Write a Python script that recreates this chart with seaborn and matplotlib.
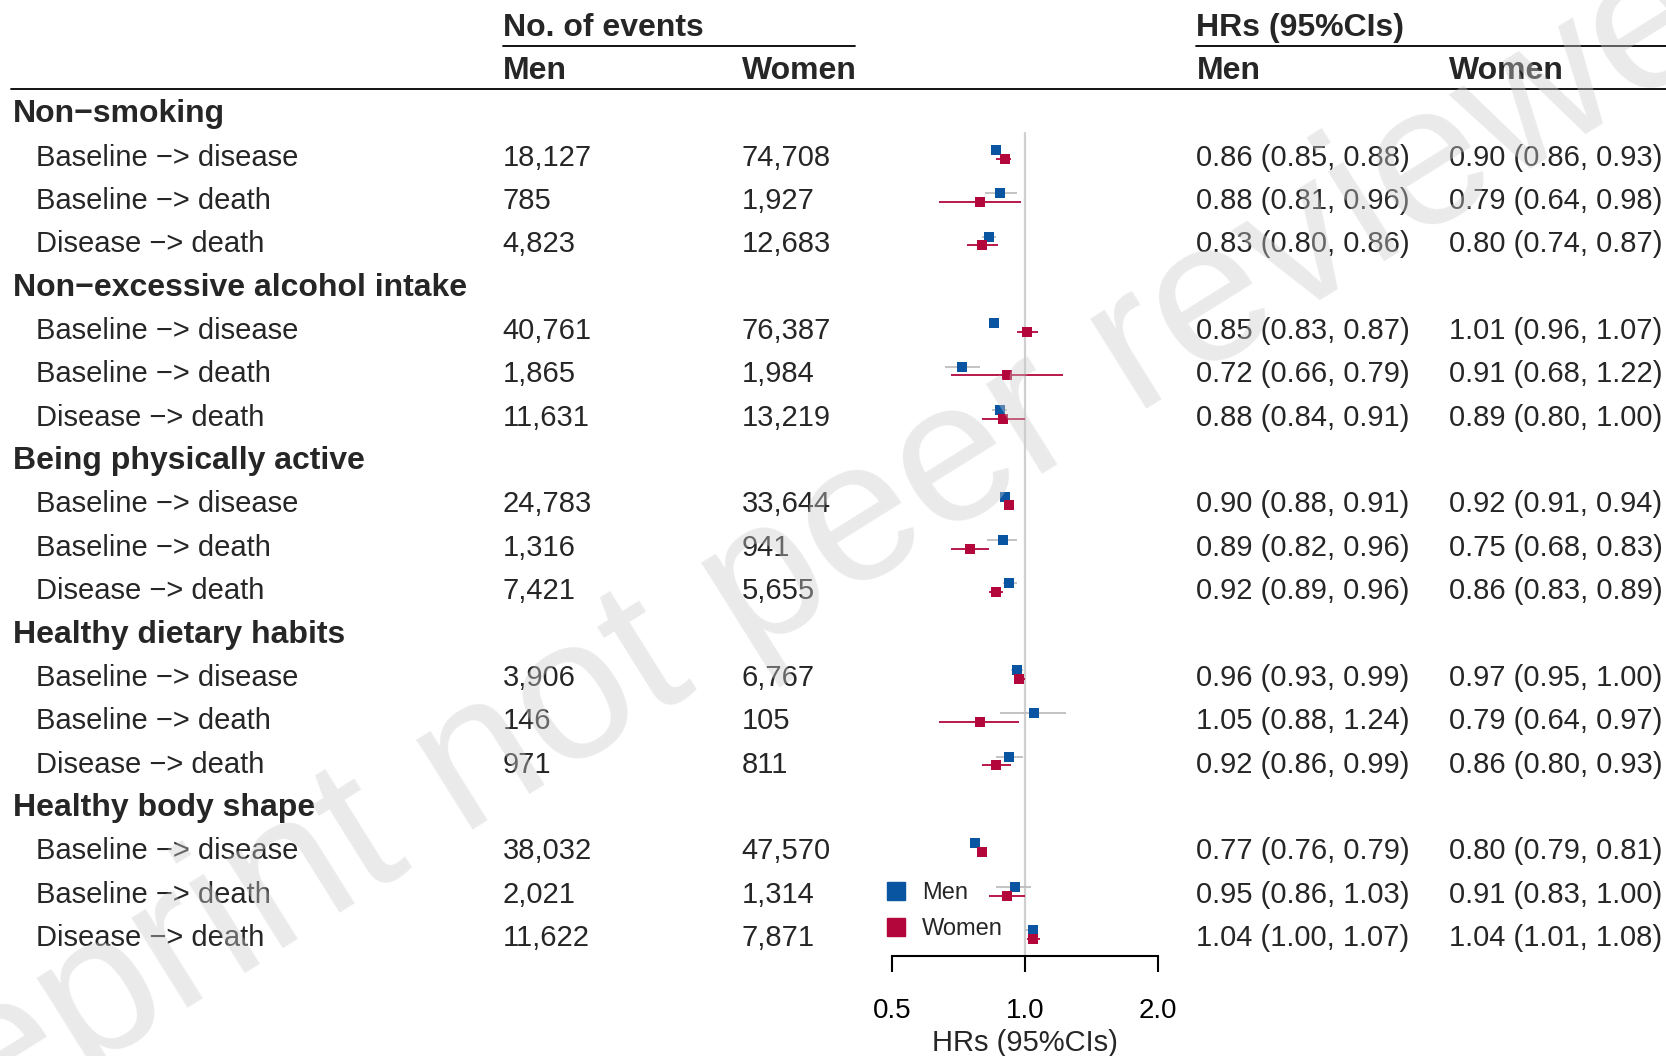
import matplotlib
matplotlib.use("Agg")
import pandas as pd
import seaborn as sns
import matplotlib.pyplot as plt
from matplotlib.lines import Line2D
from matplotlib.ticker import NullLocator
from matplotlib.transforms import blended_transform_factory

# Table contents
groups = ["Non\u2212smoking", "Non\u2212excessive alcohol intake", "Being physically active",
          "Healthy dietary habits", "Healthy body shape"]
transitions = ["Baseline \u2212> disease", "Baseline \u2212> death", "Disease \u2212> death"]

events_men = [18127, 785, 4823, 40761, 1865, 11631, 24783, 1316, 7421,
              3906, 146, 971, 38032, 2021, 11622]
events_women = [74708, 1927, 12683, 76387, 1984, 13219, 33644, 941, 5655,
                6767, 105, 811, 47570, 1314, 7871]

men_hr = [0.86, 0.88, 0.83, 0.85, 0.72, 0.88, 0.90, 0.89, 0.92, 0.96, 1.05, 0.92, 0.77, 0.95, 1.04]
men_lo = [0.85, 0.81, 0.80, 0.83, 0.66, 0.84, 0.88, 0.82, 0.89, 0.93, 0.88, 0.86, 0.76, 0.86, 1.00]
men_hi = [0.88, 0.96, 0.86, 0.87, 0.79, 0.91, 0.91, 0.96, 0.96, 0.99, 1.24, 0.99, 0.79, 1.03, 1.07]

women_hr = [0.90, 0.79, 0.80, 1.01, 0.91, 0.89, 0.92, 0.75, 0.86, 0.97, 0.79, 0.86, 0.80, 0.91, 1.04]
women_lo = [0.86, 0.64, 0.74, 0.96, 0.68, 0.80, 0.91, 0.68, 0.83, 0.95, 0.64, 0.80, 0.79, 0.83, 1.01]
women_hi = [0.93, 0.98, 0.87, 1.07, 1.22, 1.00, 0.94, 0.83, 0.89, 1.00, 0.97, 0.93, 0.81, 1.00, 1.08]

sex_labels = ["Men", "Women"]
xticks = [0.5, 1.0, 2.0]
xtick_labels = ["0.5", "1.0", "2.0"]

men_col = "#0A55A2"
women_col = "#B3063B"

# Row index for every item (group header takes one row)
rows = []
for g in range(len(groups)):
    for j in range(len(transitions)):
        rows.append(g * 4 + 1 + j)

df = pd.DataFrame({
    "row": rows * 2,
    "sex": ["Men"] * len(rows) + ["Women"] * len(rows),
    "hr": men_hr + women_hr,
    "lo": men_lo + women_lo,
    "hi": men_hi + women_hi,
})
df["y"] = df["row"] + df["sex"].map({"Men": -0.14, "Women": 0.06})

sns.set_theme(style="white")
plt.rcParams["font.family"] = ["Liberation Sans", "DejaVu Sans"]

W, H = 1666, 1056
fig = plt.figure(figsize=(W / 100, H / 100), dpi=100)
ax_left, ax_right, axis_y = 870, 1180, 956
row0, step = 112.6, 43.35
ax = fig.add_axes([ax_left / W, (H - axis_y) / H, (ax_right - ax_left) / W, axis_y / H])
ax.patch.set_visible(False)

ax.set_xscale("log", base=2)
ax.set_xlim(2 ** ((ax_left - 1025) / 133), 2 ** ((ax_right - 1025) / 133))
ybot = (axis_y - row0) / step
ax.set_ylim(ybot, -row0 / step)

# reference line at HR = 1
ax.plot([1, 1], [0.47, ybot], color="#CFCFCF", lw=1.6, zorder=0)

# CI lines + squares
for sex, lc, pc in [("Men", "#BEBEBE", men_col), ("Women", women_col, women_col)]:
    sub = df[df["sex"] == sex]
    ax.hlines(sub["y"], sub["lo"], sub["hi"], color=lc, lw=1.3, zorder=1)
    sns.scatterplot(data=sub, x="hr", y="y", color=pc, marker="s", s=58,
                    linewidth=0, ax=ax, legend=False, zorder=2)

ax.set_xlabel("HRs (95%CIs)", fontsize=21)
ax.xaxis.set_label_coords(0.5, -(1043 - axis_y) / axis_y)
ax.xaxis.label.set_verticalalignment("center")
ax.set_ylabel("")
ax.set_yticks([])
ax.set_xticks(xticks)
ax.set_xticklabels(xtick_labels)
ax.xaxis.set_minor_locator(NullLocator())
ax.tick_params(axis="x", length=11.5, width=1.5, pad=19, labelsize=20,
               color="black", labelcolor="black", bottom=True, direction="out")
for side in ["top", "right", "left"]:
    ax.spines[side].set_visible(False)
ax.spines["bottom"].set_bounds(0.5, 2.0)
ax.spines["bottom"].set_linewidth(1.5)
ax.spines["bottom"].set_color("black")

# table text
trans = blended_transform_factory(fig.transFigure, ax.transData)
x_grp, x_item = 12.75 / W, 36 / W
x_em, x_ew, x_hm, x_hw = 502.6 / W, 741.6 / W, 1196.4 / W, 1449.3 / W
dy = 0.04
bold = dict(fontsize=23, fontweight="bold", va="center", transform=trans)
reg = dict(fontsize=21, va="center", transform=trans)

ax.text(x_em, -2 + dy, "No. of events", **bold)
ax.text(x_hm, -2 + dy, "HRs (95%CIs)", **bold)
for xx, lab in zip([x_em, x_ew, x_hm, x_hw], sex_labels * 2):
    ax.text(xx, -1 + dy, lab, **bold)
ax.plot([502.6 / W, 855 / W], [-1.543, -1.543], transform=trans, color="black", lw=1.3, clip_on=False)
ax.plot([1196.4 / W, 1.0], [-1.543, -1.543], transform=trans, color="black", lw=1.3, clip_on=False)
ax.plot([10.6 / W, 1.0], [-0.539, -0.539], transform=trans, color="black", lw=1.3, clip_on=False)

k = 0
for g, grp in enumerate(groups):
    ax.text(x_grp, g * 4 + dy, grp, **bold)
    for j, tr in enumerate(transitions):
        r = g * 4 + 1 + j + dy
        ax.text(x_item, r, tr, **reg)
        ax.text(x_em, r, f"{events_men[k]:,}", **reg)
        ax.text(x_ew, r, f"{events_women[k]:,}", **reg)
        ax.text(x_hm, r, f"{men_hr[k]:.2f} ({men_lo[k]:.2f}, {men_hi[k]:.2f})", **reg)
        ax.text(x_hw, r, f"{women_hr[k]:.2f} ({women_lo[k]:.2f}, {women_hi[k]:.2f})", **reg)
        k += 1

# legend
handles = [Line2D([], [], marker="s", color=c, linestyle="none", markersize=13.5)
           for c in [men_col, women_col]]
ax.legend(handles, sex_labels, loc="center left", bbox_to_anchor=(886.5 / W, 1 - 911 / H),
          bbox_transform=fig.transFigure, frameon=False, fontsize=17, borderpad=0,
          handlelength=0.8, handletextpad=0.7, labelspacing=0.6, borderaxespad=0)

# watermark
fig.text(800 / W, 1 - 565 / H, "preprint not peer reviewed", rotation=32, fontsize=145,
         color="0.8", alpha=0.4, ha="center", va="center", rotation_mode="anchor", zorder=10)

fig.savefig("out.png", dpi=100)
